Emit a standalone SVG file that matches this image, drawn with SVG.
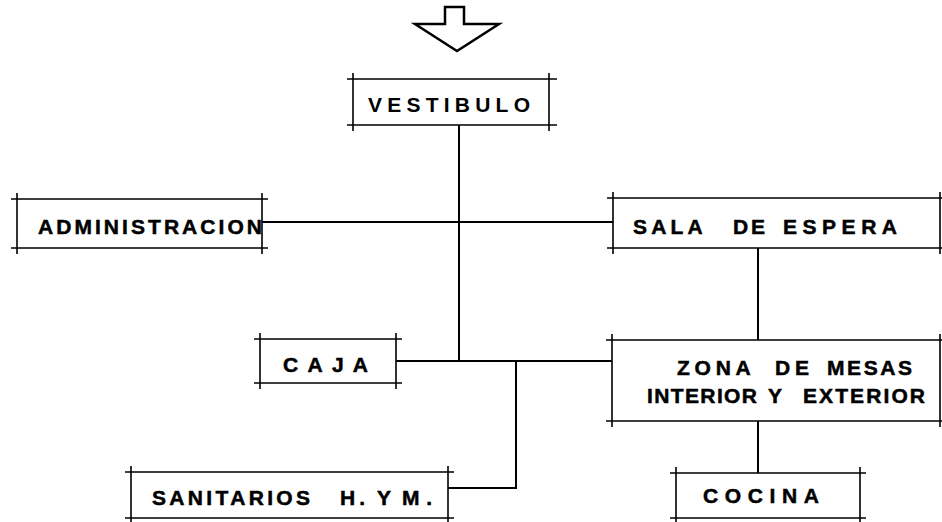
<svg xmlns="http://www.w3.org/2000/svg" width="942" height="522" viewBox="0 0 942 522">
<style>
.bx{fill:none;stroke:#000;stroke-width:1.6}
.cn{fill:none;stroke:#000;stroke-width:2}
.t{font-family:"Liberation Sans",Arial,sans-serif;font-weight:bold;font-size:21px;fill:#000;stroke:#000;stroke-width:0.5}
</style>
<rect width="942" height="522" fill="#fff"/>
<g id="entry-arrow">
<polygon points="445,7 464,7 464,24 499,24 457,51 415,24 445,24" fill="#fff" stroke="#000" stroke-width="2.5" stroke-linejoin="miter"/>
</g>
<g id="connectors">
<path class="cn" d="M459,125 V361"/>
<path class="cn" d="M262,222 H613"/>
<path class="cn" d="M396,361 H612"/>
<path class="cn" d="M758,248 V340"/>
<path class="cn" d="M516,361 V488 H448"/>
<path class="cn" d="M758,421 V473"/>
</g>
<g id="vestibulo">
<path class="bx" d="M347,79 H557 M347,125 H557 M353,73 V131 M549,73 V131"/>
<text class="t" x="368" y="112" textLength="162" lengthAdjust="spacing" style="stroke-width:0">VESTIBULO</text>
</g>
<g id="administracion">
<path class="bx" d="M11,199 H268 M11,248 H268 M17,193 V254 M262,193 V254"/>
<text class="t" x="38" y="234" textLength="224" lengthAdjust="spacing">ADMINISTRACION</text>
</g>
<g id="sala-espera">
<path class="bx" d="M607,198 H942 M607,248 H942 M613,192 V254 M940,192 V254"/>
<text class="t" y="234"><tspan x="633" textLength="69" lengthAdjust="spacing">SALA</tspan> <tspan x="733" textLength="32" lengthAdjust="spacing">DE</tspan> <tspan x="783" textLength="114" lengthAdjust="spacing">ESPERA</tspan></text>
</g>
<g id="caja">
<path class="bx" d="M254,339 H402 M254,383 H402 M260,333 V389 M396,333 V389"/>
<text class="t" x="283" y="372" textLength="85" lengthAdjust="spacing">CAJA</text>
</g>
<g id="zona-mesas">
<path class="bx" d="M606,340 H942 M606,421 H942 M612,334 V427 M940,334 V427"/>
<text class="t" y="375"><tspan x="677" textLength="73" lengthAdjust="spacing">ZONA</tspan> <tspan x="775" textLength="34" lengthAdjust="spacing">DE</tspan> <tspan x="827" textLength="85" lengthAdjust="spacing">MESAS</tspan></text>
<text class="t" y="403"><tspan x="647" textLength="110" lengthAdjust="spacing">INTERIOR</tspan> <tspan x="768" textLength="16" lengthAdjust="spacing">Y</tspan> <tspan x="803" textLength="122" lengthAdjust="spacing">EXTERIOR</tspan></text>
</g>
<g id="sanitarios">
<path class="bx" d="M125,472 H454 M125,518 H454 M131,466 V522 M448,466 V522"/>
<text class="t" y="505"><tspan x="152" textLength="158" lengthAdjust="spacing">SANITARIOS</tspan> <tspan x="340" textLength="25" lengthAdjust="spacing">H.</tspan> <tspan x="377">Y</tspan> <tspan x="402" textLength="30" lengthAdjust="spacing">M.</tspan></text>
</g>
<g id="cocina">
<path class="bx" d="M670,473 H866 M670,518 H866 M676,467 V522 M860,467 V522"/>
<text class="t" x="703" y="503" textLength="116" lengthAdjust="spacing">COCINA</text>
</g>
</svg>
